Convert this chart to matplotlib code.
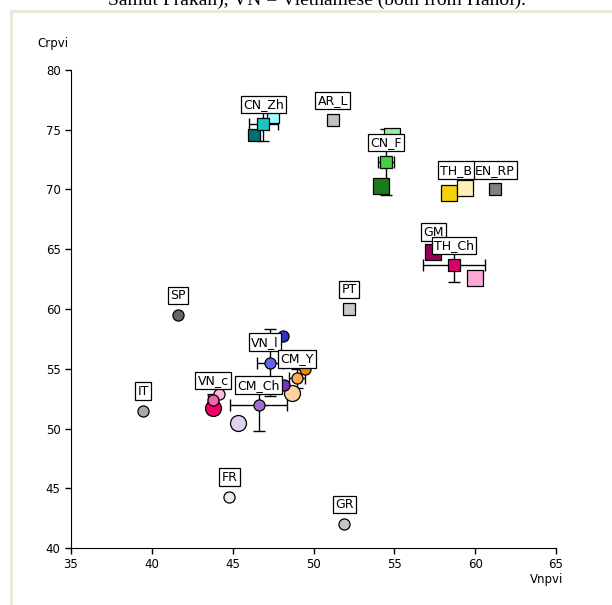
import matplotlib
matplotlib.use("Agg")
import matplotlib.pyplot as plt
from matplotlib.patches import Rectangle

# --- Daten: einzelne Punkte (Mittelwerte und Einzelwerte) ---
punkt_x = [51.2, 47.5, 46.3, 46.9, 54.85, 54.2, 54.5,
           58.4, 59.4, 61.2, 57.4, 60.0, 58.7,
           52.2, 41.6, 39.45, 44.8, 51.9,
           48.1, 47.3, 49.5, 49.0, 48.7,
           48.2, 45.3, 46.6, 44.15, 43.8, 43.8]
punkt_y = [75.8, 76.1, 74.6, 75.5, 74.5, 70.3, 72.3,
           69.7, 70.1, 70.0, 64.8, 62.6, 63.7,
           60.0, 59.5, 51.5, 44.3, 42.0,
           57.7, 55.5, 55.0, 54.2, 53.0,
           53.6, 50.5, 52.0, 52.9, 51.7, 52.4]
punkt_farbe = ["#c0c0c0", "#99ffff", "#007070", "#19c6c6", "#99ee99", "#1c7a1c", "#3fd43f",
               "#f2d20a", "#fff0b4", "#808080", "#990055", "#ffa8d8", "#dd0066",
               "#c8c8c8", "#666666", "#a8a8a8", "#ececec", "#c4c4c4",
               "#3333cc", "#6464f0", "#ee8800", "#ffaa55", "#ffd0a0",
               "#7733bb", "#ddd0f0", "#a070d0", "#ffbbdd", "#ee0066", "#ee66aa"]
punkt_form = ["s", "s", "s", "s", "s", "s", "s",
              "s", "s", "s", "s", "s", "s",
              "s", "o", "o", "o", "o",
              "o", "o", "o", "o", "o",
              "o", "o", "o", "o", "o", "o"]
punkt_gross = [False, False, False, False, True, True, False,
               True, True, False, True, True, False,
               False, False, False, False, False,
               False, False, False, False, True,
               False, True, False, False, True, False]

# --- Fehlerbalken (Mittelwert +/- Streuung) ---
fehler_x = [46.9, 54.5, 58.7, 46.6, 47.3, 49.0, 43.8]
fehler_y = [75.5, 72.3, 63.7, 52.0, 55.5, 54.2, 52.4]
fehler_dx = [0.9, 0.5, 1.9, 1.75, 0.8, 0.5, 0.3]
fehler_dy = [1.4, 2.8, 1.4, 2.2, 2.8, 0.8, 0.5]

# --- Beschriftungen ---
label_text = ["AR_L", "CN_Zh", "CN_F", "EN_RP", "TH_B", "GM", "TH_Ch",
              "PT", "SP", "IT", "FR", "GR", "VN_l", "CM_Y", "VN_c", "CM_Ch"]
label_x = [51.2, 46.9, 54.5, 61.2, 58.8, 57.4, 58.7,
           52.2, 41.6, 39.45, 44.8, 51.9, 47.0, 49.0, 43.8, 46.6]
label_y = [75.8, 75.5, 72.3, 70.0, 70.0, 64.8, 63.7,
           60.0, 59.5, 51.5, 44.3, 42.0, 55.6, 54.2, 52.4, 52.0]

fig = plt.figure(figsize=(6.12, 6.05), dpi=100)
ax = fig.add_axes([71 / 612, 1 - 548 / 605, 485 / 612, 478 / 605])

# Rahmen links/oben (beige)
fig.add_artist(Rectangle((11 / 612, -0.1), 1.2, 1 - 11 / 605 + 0.1,
                         transform=fig.transFigure, fill=False,
                         edgecolor="#ece9d8", linewidth=2.2))

# abgeschnittene Bildunterschrift oben
fig.text(0.518, 1.0, "Samut Prakan), VN = Vietnamese (both from Hanoi).",
         ha="center", va="center", fontsize=14, family="Liberation Serif")

ax.errorbar(fehler_x, fehler_y, xerr=fehler_dx, yerr=fehler_dy, fmt="none",
            ecolor="black", elinewidth=1, capsize=4, capthick=1, zorder=2)

for x, y, f, m, g in zip(punkt_x, punkt_y, punkt_farbe, punkt_form, punkt_gross):
    groesse = 11.5 if g else 8
    ax.plot(x, y, marker=m, markersize=groesse, markerfacecolor=f,
            markeredgecolor="black", markeredgewidth=0.9, linestyle="none", zorder=3)

for i, (t, x, y) in enumerate(zip(label_text, label_x, label_y)):
    ax.annotate(t, (x, y), xytext=(0, 14), textcoords="offset points",
                ha="center", va="center", fontsize=9, zorder=10 + i,
                bbox=dict(boxstyle="square,pad=0.18", facecolor="white",
                          edgecolor="black", linewidth=0.9))

ax.set_xlim(35, 65)
ax.set_ylim(40, 80)
ax.set_xticks([35, 40, 45, 50, 55, 60, 65])
ax.set_yticks([40, 45, 50, 55, 60, 65, 70, 75, 80])
ax.spines["top"].set_visible(False)
ax.spines["right"].set_visible(False)
ax.tick_params(labelsize=8.5, length=4, width=1, direction="out")

fig.text(37 / 612, 1 - 44 / 605, "Crpvi", fontsize=8.5, va="center")
fig.text(547 / 612, 1 - 580 / 605, "Vnpvi", fontsize=8.5, va="center", ha="center")

plt.savefig("out.png", dpi=100)
